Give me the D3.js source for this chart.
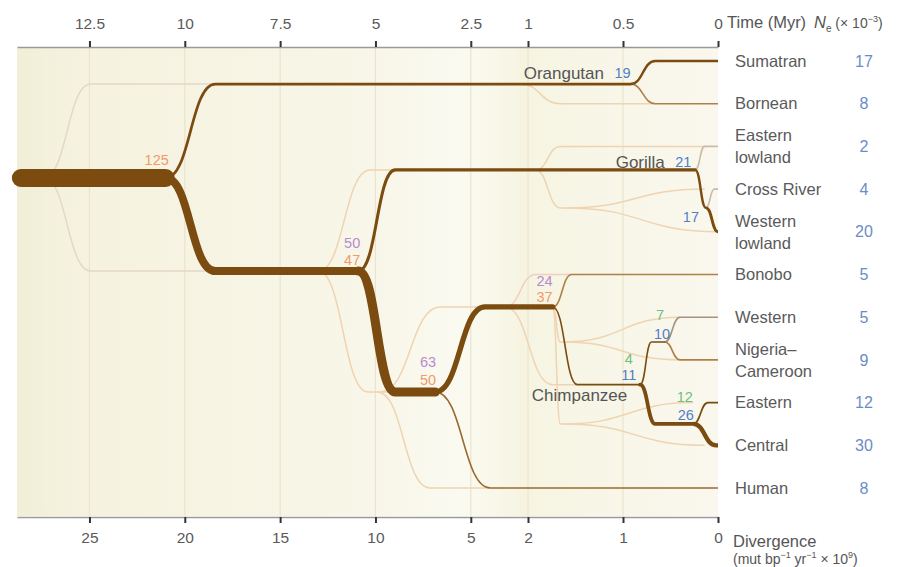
<!DOCTYPE html>
<html lang="en">
  <head>
    <meta charset="utf-8"/>
    <script src="https://d3js.org/d3.v7.min.js"></script>
    <title>Great ape demographic tree</title>
  </head>
  <body>
    <div id="tree_div"><svg id="tree"></svg></div>
  </body>
</html>

<style>
  body { margin: 0; background: #fff; }
  svg { font-family: "Liberation Sans", Arial, sans-serif; display: block; }
</style>

<script>
  const width = 922;
  const height = 567;

  // tips, top to bottom
  const tips = ["Sumatran", "Bornean", "Eastern lowland", "Cross River", "Western lowland",
    "Bonobo", "Western", "Nigeria\u2013 Cameroon", "Eastern", "Central", "Human"];
  const tipLines = [["Sumatran"], ["Bornean"], ["Eastern", "lowland"], ["Cross River"], ["Western", "lowland"],
    ["Bonobo"], ["Western"], ["Nigeria\u2013", "Cameroon"], ["Eastern"], ["Central"], ["Human"]];
  const neValues = [17, 8, 2, 4, 20, 5, 5, 9, 12, 30, 8];

  const timeTicks = [12.5, 10, 7.5, 5, 2.5, 1, 0.5, 0];
  const divTicks = [25, 20, 15, 10, 5, 2, 1, 0];

  // branches: [startTime, startY, bendTime, endY, endTime, Ne, kind]
  // y is in tip units (0 = Sumatran ... 10 = Human)
  const mainBranches = [
    [14.3, 2.74, 14.3, 2.74, 10.5, 125, "main"],   // ancestral
    [10.5, 2.74, 9.2, 0.54, 0.46, 19, "main"],     // orangutan
    [0.46, 0.54, 0.33, 0, 0, 17, "main"],          // Sumatran
    [0.46, 0.54, 0.33, 1, 0, 8, "tip"],            // Bornean
    [10.5, 2.74, 9.2, 4.92, 5.45, 55, "main"],     // African apes
    [5.45, 4.92, 4.48, 2.55, 0.12, 21, "main"],    // gorilla
    [0.12, 2.55, 0.07, 2, 0, 2, "faint"],          // Eastern lowland
    [0.12, 2.55, 0.063, 3.44, 0.063, 17, "main"],  // western gorilla
    [0.063, 3.44, 0.02, 3, 0, 4, "faint"],         // Cross River
    [0.063, 3.44, 0.0, 4, 0, 20, "main"],          // Western lowland
    [5.45, 4.92, 4.48, 7.75, 3.43, 63, "main"],    // hominin
    [3.43, 7.75, 2.13, 5.76, 0.87, 37, "main"],    // Pan
    [3.43, 7.75, 1.99, 10, 0, 8, "human"],         // Human
    [0.87, 5.76, 0.77, 5, 0, 5, "tip"],            // Bonobo
    [0.87, 5.76, 0.74, 7.58, 0.41, 11, "main"],    // chimpanzee
    [0.41, 7.58, 0.35, 6.58, 0.28, 10, "main"],    // W / N-C
    [0.28, 6.58, 0.2, 6, 0, 5, "tipGrey"],         // Western
    [0.28, 6.58, 0.2, 7, 0, 9, "tip"],             // Nigeria-Cameroon
    [0.41, 7.58, 0.33, 8.5, 0.13, 26, "main"],     // E / C
    [0.13, 8.5, 0.053, 8, 0, 12, "main"],          // Eastern
    [0.13, 8.5, 0.01, 9, 0, 30, "main"]            // Central
  ];

  // alternative (faint) histories
  const ghostBranches = [
    [13.7, 2.74, 12.47, 0.54, 9.2, "grey"],
    [13.7, 2.74, 12.47, 4.92, 9.2, "grey"],
    [6.5, 4.92, 5.14, 2.55, 4.48, "tan"],
    [6.5, 4.92, 5.2, 7.75, 4.48, "tan"],
    [4.95, 7.75, 3.57, 10, 1.99, "tan"],
    [4.87, 7.75, 3.3, 5.76, 2.13, "tan"],
    [1.6, 5.76, 0.96, 5, 0.77, "pink"],
    [1.6, 5.76, 0.87, 7.58, 0.74, "tan"],
    [0.87, 5.76, 0.83, 6.58, 0.81, "tan"],
    [0.87, 5.76, 0.83, 8.5, 0.81, "tan"],
    [0.81, 6.58, 0.2, 6, 0.2, "tan"],
    [0.81, 6.58, 0.2, 7, 0.2, "tan"],
    [0.81, 8.5, 0.13, 8, 0.13, "tan"],
    [0.81, 8.5, 0.07, 9, 0.07, "tan"],
    [0.96, 2.55, 0.83, 2, 0.07, "tan"],
    [0.96, 2.55, 0.83, 3.44, 0.8, "tan"],
    [0.8, 3.44, 0.07, 3, 0.07, "tan"],
    [0.8, 3.44, 0.0, 4, 0.0, "tan"],
    [1.2, 0.54, 0.83, 1, 0.33, "tan"]
  ];

  // node labels: [time, y, text, kind, anchor]
  const nodeLabels = [
    [10.42, 2.32, "125", "orange", "end"],
    [5.4, 4.26, "50", "purple", "end"],
    [5.4, 4.66, "47", "orange", "end"],
    [3.41, 7.05, "63", "purple", "end"],
    [3.41, 7.47, "50", "orange", "end"],
    [0.87, 5.15, "24", "purple", "end"],
    [0.87, 5.53, "37", "orange", "end"],
    [0.46, 0.28, "19", "blue", "end"],
    [0.14, 2.37, "21", "blue", "end"],
    [0.1, 3.65, "17", "blue", "end"],
    [0.305, 5.95, "7", "green", "middle"],
    [0.295, 6.4, "10", "blue", "middle"],
    [0.47, 6.98, "4", "green", "middle"],
    [0.47, 7.36, "11", "blue", "middle"],
    [0.175, 7.87, "12", "green", "middle"],
    [0.17, 8.29, "26", "blue", "middle"]
  ];
  const cladeLabels = [
    [0.6, 0.28, "Orangutan", "end"],
    [0.28, 2.37, "Gorilla", "end"],
    [0.98, 7.83, "Chimpanzee", "start"]
  ];

  const labelColor = {orange: "#f29a6a", purple: "#b98ad0", blue: "#4f7fc7", green: "#6cc07c"};
  const branchColor = {main: "#7b4b10", human: "#9a6a30", tip: "#b08048",
    tipGrey: "#a39482", faint: "#c9bba8"};
  const ghostColor = {grey: "#e2d8cb", tan: "#efd4b2", pink: "#f2cfc0"};

  const svg = d3.select("#tree")
    .attr("width", width)
    .attr("height", height);

  // piecewise time scale (stretched below 1 Myr)
  const x = d3.scaleLinear().domain([14.4, 1, 0]).range([17, 528, 718]);
  const xDiv = d3.scaleLinear().domain([28.8, 2, 0]).range([17, 528, 718]);
  const yU = d3.scaleLinear().domain([0, 10]).range([61, 488]);
  const yTip = d3.scalePoint().domain(tips).range([61, 488]);
  const w = d3.scaleLinear().domain([0, 125]).range([0, 18]);

  const plotTop = 48, plotBottom = 516;

  // background
  const defs = svg.append("defs");
  const grad = defs.append("linearGradient").attr("id", "bg");
  [[0, "#f2efd8"], [0.1, "#f5f2df"], [0.5, "#f8f6e8"], [0.64, "#fbfaf1"],
   [0.72, "#f6f4e1"], [0.85, "#f8f6e8"], [1, "#faf8ee"]]
    .forEach(s => grad.append("stop").attr("offset", s[0]).attr("stop-color", s[1]));

  svg.append("rect")
    .attr("x", 17).attr("y", plotTop)
    .attr("width", 718 - 17).attr("height", plotBottom - plotTop)
    .attr("fill", "url(#bg)");

  svg.append("g")
    .selectAll("line")
    .data(timeTicks.slice(0, -1))
    .enter()
    .append("line")
      .attr("x1", d => x(d)).attr("x2", d => x(d))
      .attr("y1", plotTop).attr("y2", plotBottom)
      .attr("stroke", "#ebe4cc")
      .attr("stroke-width", 1.2);

  function branchPath(t0, y0, tb, y1, te) {
    const x0 = x(t0), xb = x(tb), xe = x(te);
    const a = yU(y0), b = yU(y1);
    const xm = (x0 + xb) / 2;
    return "M" + x0 + "," + a + "C" + xm + "," + a + " " + xm + "," + b + " " + xb + "," + b + "L" + xe + "," + b;
  }

  svg.append("g")
    .attr("fill", "none")
    .selectAll("path")
    .data(ghostBranches)
    .enter()
    .append("path")
      .attr("d", d => branchPath(d[0], d[1], d[2], d[3], d[4]))
      .attr("stroke", d => ghostColor[d[5]])
      .attr("stroke-width", 1.5);

  const order = {faint: 0, tipGrey: 1, tip: 1, human: 1, main: 2};
  svg.append("g")
    .attr("fill", "none")
    .selectAll("path")
    .data(mainBranches.slice().sort((a, b) => order[a[6]] - order[b[6]]))
    .enter()
    .append("path")
      .attr("d", d => branchPath(d[0], d[1], d[2], d[3], d[4]))
      .attr("stroke", d => branchColor[d[6]])
      .attr("stroke-width", d => Math.max(1.6, w(d[5])))
      .attr("stroke-linecap", d => d[4] > 0 && d[6] === "main" ? "round" : "butt")
      .attr("stroke-linejoin", "round");

  // axes
  const axTop = svg.append("g")
    .attr("transform", "translate(0," + (plotTop - 1) + ")")
    .call(d3.axisTop(x).tickValues(timeTicks).tickSize(6).tickSizeOuter(0).tickPadding(12)
      .tickFormat(d3.format("")));
  const axBot = svg.append("g")
    .attr("transform", "translate(0," + (plotBottom + 1) + ")")
    .call(d3.axisBottom(xDiv).tickValues(divTicks).tickSize(6).tickSizeOuter(0).tickPadding(9)
      .tickFormat(d3.format("")));

  [axTop, axBot].forEach(g => {
    g.select(".domain").attr("stroke", "#9a9a9a").attr("stroke-width", 1.6);
    g.selectAll(".tick line").attr("stroke", "#333").attr("stroke-width", 2);
    g.selectAll(".tick text").attr("fill", "#5a5a5a").attr("font-size", 15.5);
  });

  // axis titles
  svg.append("text")
    .attr("x", 727).attr("y", 28)
    .attr("font-size", 16.5).attr("fill", "#555")
    .text("Time (Myr)");

  const ne = svg.append("text")
    .attr("x", 814).attr("y", 28)
    .attr("font-size", 16.5).attr("fill", "#555");
  ne.append("tspan").attr("font-style", "italic").text("N");
  ne.append("tspan").attr("font-size", 10).attr("dy", 4).text("e");
  ne.append("tspan").attr("dy", -4).attr("font-size", 14).text(" (\u00d7 10");
  ne.append("tspan").attr("font-size", 9).attr("dy", -6).text("\u22123");
  ne.append("tspan").attr("font-size", 14).attr("dy", 6).text(")");

  svg.append("text")
    .attr("x", 733).attr("y", 547)
    .attr("font-size", 16.5).attr("fill", "#555")
    .text("Divergence");
  const dv = svg.append("text")
    .attr("x", 733).attr("y", 564)
    .attr("font-size", 14).attr("fill", "#555");
  dv.append("tspan").text("(mut bp");
  dv.append("tspan").attr("font-size", 9).attr("dy", -6).text("\u22121");
  dv.append("tspan").attr("dy", 6).text(" yr");
  dv.append("tspan").attr("font-size", 9).attr("dy", -6).text("\u22121");
  dv.append("tspan").attr("dy", 6).text(" \u00d7 10");
  dv.append("tspan").attr("font-size", 9).attr("dy", -6).text("9");
  dv.append("tspan").attr("dy", 6).text(")");

  // tip labels
  const tipG = svg.append("g")
    .selectAll("text")
    .data(tips)
    .enter()
    .append("text")
      .attr("x", 735)
      .attr("y", d => yTip(d))
      .attr("font-size", 16.5)
      .attr("fill", "#5a5a5a");
  tipG.each(function(d, i) {
    const lines = tipLines[i];
    const t = d3.select(this);
    lines.forEach((l, j) => {
      t.append("tspan")
        .attr("x", 735)
        .attr("dy", j === 0 ? (lines.length === 1 ? "0.35em" : "-0.32em") : "1.34em")
        .text(l);
    });
  });

  svg.append("g")
    .selectAll("text")
    .data(neValues)
    .enter()
    .append("text")
      .attr("x", 864)
      .attr("y", (d, i) => yTip(tips[i]))
      .attr("dy", "0.35em")
      .attr("text-anchor", "middle")
      .attr("font-size", 16)
      .attr("fill", "#6b8cc6")
      .text(d => d);

  // clade and node labels
  svg.append("g")
    .selectAll("text")
    .data(cladeLabels)
    .enter()
    .append("text")
      .attr("x", d => x(d[0]))
      .attr("y", d => yU(d[1]))
      .attr("dy", "0.35em")
      .attr("text-anchor", d => d[3])
      .attr("font-size", 17)
      .attr("fill", "#555")
      .text(d => d[2]);

  svg.append("g")
    .selectAll("text")
    .data(nodeLabels)
    .enter()
    .append("text")
      .attr("x", d => x(d[0]))
      .attr("y", d => yU(d[1]))
      .attr("dy", "0.35em")
      .attr("text-anchor", d => d[4])
      .attr("font-size", 14.5)
      .attr("fill", d => labelColor[d[3]])
      .text(d => d[2]);
</script>
